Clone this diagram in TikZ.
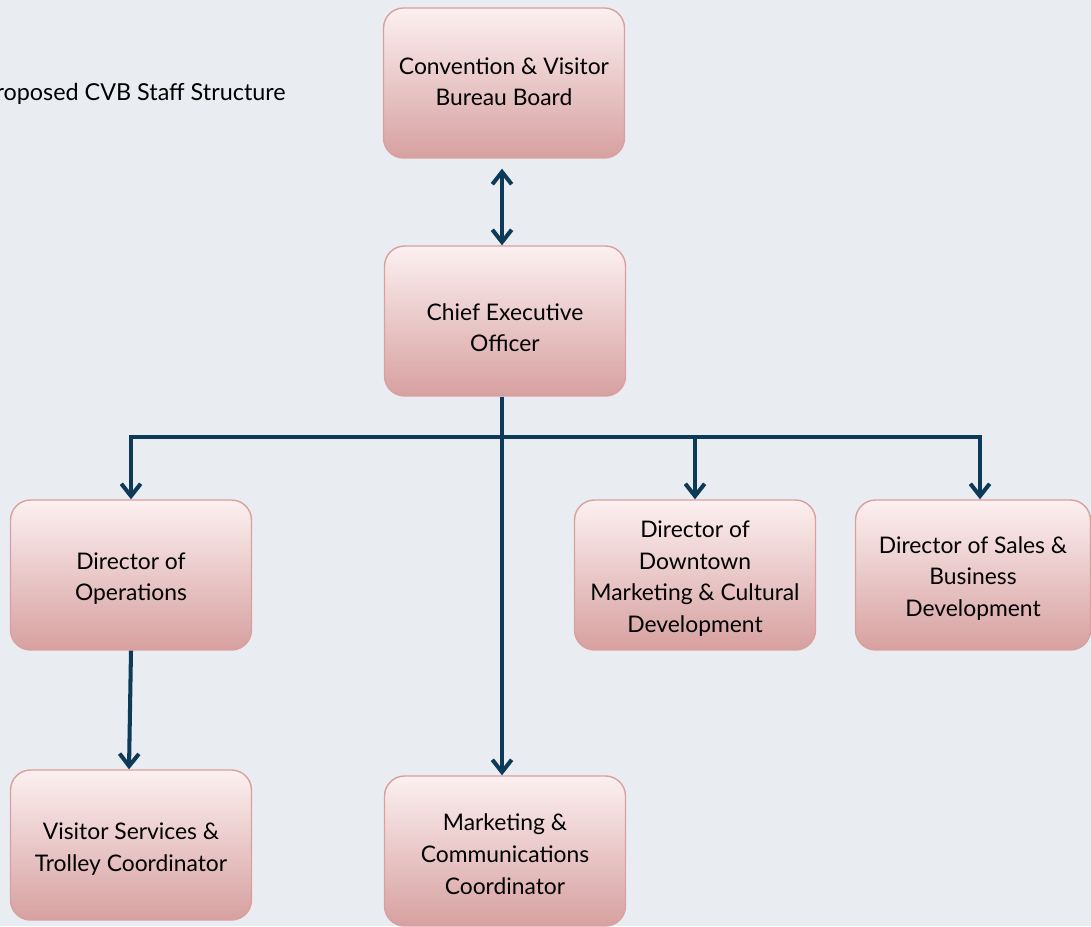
\documentclass[tikz,border=0pt]{standalone}
\usepackage{fontspec}
\setmainfont{Lato}
\usetikzlibrary{arrows.meta}
\definecolor{pagebg}{RGB}{233,237,241}
\definecolor{boxtop}{RGB}{252,240,240}
\definecolor{boxbot}{RGB}{215,160,160}
\definecolor{boxline}{RGB}{218,160,160}
\definecolor{linknavy}{RGB}{14,58,90}
% centred lines, dropped a little inside the box
\newcommand{\staff}[2][2pt]{\raisebox{-#1}[\height][\depth]{\begin{tabular}{@{}c@{}}#2\end{tabular}}}

\begin{document}
\begin{tikzpicture}[x=0.02cm, y=-0.02cm]
% Define styles
\tikzstyle{post} = [rectangle, rounded corners=0.4cm, minimum width=4.82cm, minimum height=3cm, draw=boxline, line width=0.8pt, top color=boxtop, bottom color=boxbot, font=\fontsize{13}{18}\selectfont]
\tikzstyle{arrow} = [line width=2.3pt, draw=linknavy, -{Straight Barb[length=7pt, width=11pt, line width=2.3pt]}]

% Page and heading
\fill[pagebg] (0,0) rectangle (1091,926);
\useasboundingbox (0,0) rectangle (1091,926);
\node[anchor=base east, font=\fontsize{13.3}{16}\selectfont, inner sep=0pt] (heading) at (286,100) {Proposed CVB Staff Structure};

% Place nodes
\node [post] (board) at (504,83) {\staff[0.4pt]{Convention \& Visitor\\Bureau Board}};
\node [post] (ceo) at (505,321) {\staff[5pt]{Chief Executive\\Officer}};
\node [post] (ops) at (131,575) {\staff{Director of\\Operations}};
\node [post] (downtown) at (695,575) {\staff{Director of\\Downtown\\Marketing \& Cultural\\Development}};
\node [post, minimum width=4.7cm] (sales) at (973,575) {\staff{Director of Sales \&\\Business\\Development}};
\node [post] (visitor) at (131,845) {\staff[2.5pt]{Visitor Services \&\\Trolley Coordinator}};
\node [post] (marcom) at (505,851) {\staff[3pt]{Marketing \&\\Communications\\Coordinator}};

% Bus point below the CEO
\coordinate (bus) at (502,437);

% Draw arrows
\draw [arrow, {Straight Barb[length=7pt, width=11pt, line width=2.3pt]}-{Straight Barb[length=7pt, width=11pt, line width=2.3pt]}] ([yshift=-0.2cm]board.south -| bus) -- (ceo.north -| bus);
\draw [arrow] (ceo.south -| bus) -- (marcom.north -| bus);
\draw [arrow] (ceo.south -| bus) -- (bus) -| (ops.north);
\draw [arrow] (bus) -| (downtown.north);
\draw [arrow] (bus) -| ([xshift=0.14cm]sales.north);
\draw [arrow] (ops.south) -- ([xshift=-0.04cm]visitor.north);
\end{tikzpicture}
\end{document}
